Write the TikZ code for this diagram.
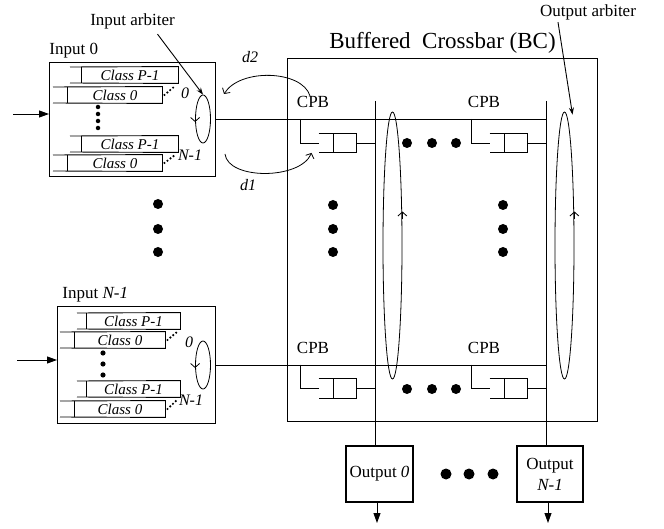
\documentclass[tikz,border=0pt]{standalone}
\usepackage{fontspec}
\setmainfont{Liberation Serif}
\usetikzlibrary{positioning,arrows.meta,calc,shapes.geometric}

\tikzset{
	box/.style={draw,line width=1.1pt,inner sep=0pt},
	queue/.style={inner sep=0pt,minimum height=16pt,font=\fontsize{15}{17}\selectfont\itshape},
	buf/.style={inner sep=0pt,minimum width=37pt,minimum height=19pt},
	arb/.style={draw,ellipse,inner sep=0pt,line width=0.8pt},
	dotlink/.style={line width=2.4pt,dash pattern=on 0pt off 3.8pt,line cap=round},
	turn/.style={-{Straight Barb[length=4pt,width=9pt]},line width=0.8pt},
	feed/.style={-{Triangle[length=10pt,width=7pt]}},
	lbl/.style={font=\fontsize{16}{18}\selectfont\itshape}
}

\begin{document}
\begin{tikzpicture}[x=1pt,y=-1pt,line width=0.9pt,
	every node/.style={inner sep=2pt,font=\fontsize{17}{21}\selectfont}]
	
	\useasboundingbox (0,0) rectangle (664,529);
	
	% input ports
	\node[box,minimum width=166pt,minimum height=114pt,anchor=north west] (in0) at (49,62) {};
	\node[box,minimum width=158pt,minimum height=117pt,anchor=north west] (inN) at (57,306) {};
	\node[above right=1pt and -2pt of in0.north west] (in0lbl) {Input 0};
	\node[above right=1pt and 3pt of inN.north west] (inNlbl) {Input \textit{N-1}};
	
	\coordinate (src0) at (13,114);
	\coordinate (srcN) at (17,360);
	\draw[feed] (src0) -- (src0 -| in0.west);
	\draw[feed] (srcN) -- (srcN -| inN.west);
	
	\foreach \q/\xa/\xd/\xe/\yt/\txt in
	{
		q0a/70/82/178/67/{Class P-1},
		q0b/53/68/162/87/{Class 0},
		q0c/70/82/178/136/{Class P-1},
		q0d/53/68/162/155/{Class 0},
		qNa/77/87/180/313/{Class P-1},
		qNb/60/75/165/332/{Class 0},
		qNc/77/87/180/381/{Class P-1},
		qNd/60/75/165/401/{Class 0}
	}
	{
		\node[queue,minimum width=\xe-\xd] (\q) at ({(\xd+\xe)/2},\yt+8) {\txt};
		\draw
		(\xa,\yt) -- (\q.north east) -- (\q.south east) -- (\xa,\yt+16);
		\draw (\q.north west) -- (\q.south west);
	}
	
	\draw[dotlink] ($(q0b.east)+(2,0)$) -- ($(q0a.south east)+(-4,3)$);
	\draw[dotlink] ($(q0d.east)+(2,0)$) -- ($(q0c.south east)+(-4,3)$);
	\draw[dotlink] ($(qNb.east)+(2,0)$) -- ($(qNa.south east)+(-4,3)$);
	\draw[dotlink] ($(qNd.east)+(2,0)$) -- ($(qNc.south east)+(-4,3)$);
	
	\draw[line width=4.5pt,dash pattern=on 0pt off 7pt,line cap=round] (98,107) -- (98,129);
	\foreach \y in {353,364,375}
		\fill (103,\y) circle (2.6pt);
	
	\node[lbl] (p00) at (185,93) {0};
	\node[lbl] (p0N) at (190,155) {N-1};
	\node[lbl] (pN0) at (189,342) {0};
	\node[lbl] (pNN) at (191,400) {N-1};
	
	% input arbiters
	\node[arb,minimum width=15pt,minimum height=48pt] (arb0) at (203,119) {};
	\node[arb,minimum width=15pt,minimum height=48pt] (arbN) at (203,365) {};
	\draw[turn] ($(arb0.west)+(0,-4)$) -- ($(arb0.west)+(0,3)$);
	\draw[turn] ($(arbN.west)+(0,-4)$) -- ($(arbN.west)+(0,3)$);
	
	\node (inarb) at (132.5,21) {Input arbiter};
	\draw[-{Stealth[length=7pt,width=5pt]}]
	($(inarb.south)+(25,3)$)
	--
	(arb0.north);
	
	\foreach \y in {204,229,252}
		\fill (158,\y) circle (5pt);
	
	% crossbar
	\node[box,minimum width=310pt,minimum height=363pt,anchor=north west] (bc) at (287,58) {};
	\node[above=2pt of bc.north,font=\fontsize{23}{26}\selectfont] (bctitle) {Buffered\ \ Crossbar (BC)};
	
	\coordinate (colA) at (375,101);
	\coordinate (colB) at (546,101);
	
	\node[box,minimum width=67pt,minimum height=56pt] (out0) at (379.5,474) {Output \textit{0}};
	\node[box,minimum width=66pt,minimum height=56pt,align=center] (outN) at (550,474) {Output\\\textit{N-1}};
	\draw (colA) -- (colA |- out0.north);
	\draw (colB) -- (colB |- outN.north);
	
	\coordinate (sink0) at (377,523);
	\coordinate (sinkN) at (548,523);
	\draw[feed] (out0.south -| sink0) -- (sink0);
	\draw[feed] (outN.south -| sinkN) -- (sinkN);
	
	\draw (in0.east) -- (in0.east -| colB);
	\draw (inN.east) -- (inN.east -| colB);
	
	\foreach \r/\ry in {0/119,1/364.5}
	{
		\foreach \c/\cx in {0/375,1/546}
		{
			\node[buf] (cpb\r\c) at (\cx-37.5,\ry+24) {};
			\draw
			(cpb\r\c.north west) -- (cpb\r\c.north east) -- (cpb\r\c.south east) -- (cpb\r\c.south west);
			\draw ($(cpb\r\c.north west)+(15,0)$) -- ($(cpb\r\c.south west)+(15,0)$);
			\draw (\cx-75,\ry) |- (cpb\r\c.west);
			\draw (cpb\r\c.east) -- (\cx,\ry+24);
			\node (cpblbl\r\c) at (\cx-62,\ry-17) {CPB};
		}
	}
	
	% output arbiters
	\node[arb,minimum width=19pt,minimum height=267pt] (oarbA) at (392.5,245.5) {};
	\node[arb,minimum width=19pt,minimum height=267pt] (oarbB) at (564.5,245.5) {};
	\draw[turn] ($(oarbA.east)+(0,-26)$) -- ($(oarbA.east)+(0,-34)$);
	\draw[turn] ($(oarbB.east)+(0,-26)$) -- ($(oarbB.east)+(0,-34)$);
	
	\node (outarb) at (588,12) {Output arbiter};
	\draw[-{Stealth[length=7pt,width=5pt]}]
	($(outarb.south)+(-30,0)$)
	--
	($(oarbB.north)+(8,3)$);
	
	% flow control loop
	\coordinate (d2end) at (224,94);
	\coordinate (d1start) at (225,154);
	\draw[turn] ($(cpblbl00.north)+(-3,2)$) .. controls (302,70) and (240,68) .. (d2end);
	\draw[turn] (d1start) .. controls (228,180) and (300,180) .. ($(cpb00.south west)+(-7,0)$);
	\node[lbl] (d2lbl) at (250,57) {d2};
	\node[lbl] (d1lbl) at (248,185) {d1};
	
	\foreach \y in {143,389}
		\foreach \x in {407,432,456}
			\fill (\x,\y) circle (5pt);
	\foreach \x in {333,503}
		\foreach \y in {205,229,252}
			\fill (\x,\y) circle (5pt);
	\foreach \x in {446,469,493}
		\fill (\x,474) circle (5.5pt);
	
\end{tikzpicture}
\end{document}
